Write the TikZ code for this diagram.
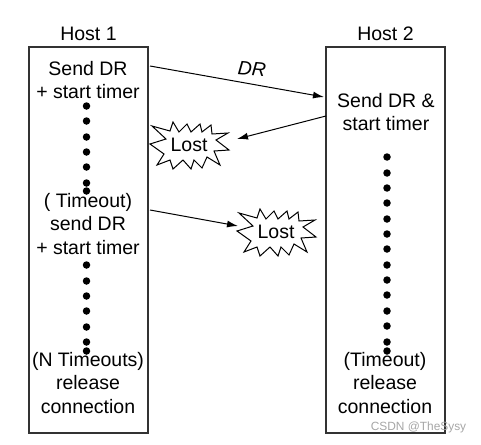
\documentclass[tikz,border=0pt]{standalone}
\usepackage{fontspec}
\setmainfont{Liberation Sans}
\usepackage{tikz}
\usetikzlibrary{arrows.meta,positioning}

\begin{document}
\begin{tikzpicture}[x=1pt,y=-1pt,node distance=6pt and 4pt,every node/.style={font=\fontsize{19.5}{23.5}\selectfont,align=center,inner sep=0pt},host/.style={draw=black!80,line width=1.2pt,minimum width=119pt,minimum height=386pt},dot/.style={circle,fill=black,minimum size=7.5pt},arrow/.style={-{Latex[length=11pt,width=7pt]},line width=1pt},burst/.pic={\draw[line width=1pt,fill=white] (-40,-2)--(-24,-7)--(-38,-20)--(-20,-15)--(-17,-24)--(-11,-14)--(-3,-22)--(1,-14)--(10,-22)--(12,-14)--(21,-21)--(22,-12)--(38,-13)--(26,-6)--(39,4)--(24,5)--(30,19)--(17,11)--(12,22)--(4,14)--(1,23)--(-7,14)--(-17,23)--(-20,14)--(-33,19)--(-26,8)--cycle;}]
\useasboundingbox (0,0) rectangle (481,444);
\node[host] (h1) at (88.5,240) {};
\node[host] (h2) at (385.5,240) {};
\node[above=6pt of h1] (t1) {Host 1};
\node[above=6pt of h2] (t2) {Host 2};
\node (a1) at (88,80) {Send DR\\+ start timer};
\node (a2) at (88,224) {( Timeout)\\send DR\\+ start timer};
\node (a3) at (88,383) {(N Timeouts)\\release\\connection};
\node (b1) at (386,112) {Send DR \&\\start timer};
\node (b2) at (385,383) {(Timeout)\\release\\connection};
\foreach \y in {106,121,137,152,167,183,191,265,281,296,311,327,342,351} \node[dot] (l\y) at (86.5,\y) {};
\foreach \y in {157,173,188,203,219,234,249,265,280,295,311,326,342,351} \node[dot] (r\y) at (387,\y) {};
\pic at (190,146) {burst};
\pic at (277,233) {burst};
\node (x1) at (189,145) {Lost};
\node (x2) at (276,232) {Lost};
\coordinate (s1) at (150,66);
\coordinate (e1) at (324,97);
\coordinate (s2) at (326,116);
\coordinate (e2) at (237,139);
\coordinate (s3) at (150,210);
\coordinate (e3) at (238,226);
\draw[arrow] (s1)--(e1);
\draw[arrow] (s2)--(e2);
\draw[arrow] (s3)--(e3);
\node[rotate=-5] (dr) at (252,69) {\itshape DR};
\node[text=black!35,font=\fontsize{11.9}{14}\selectfont] (mark) at (418.5,427) {CSDN @TheSysy};
\end{tikzpicture}
\end{document}
